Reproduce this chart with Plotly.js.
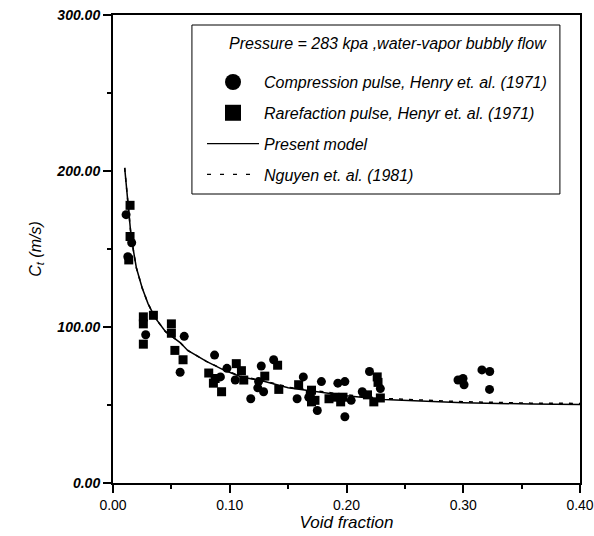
<!DOCTYPE html>
<html>
<head>
<meta charset="utf-8">
<script src="https://cdn.plot.ly/plotly-3.0.1.min.js"></script>
<style>html,body{margin:0;padding:0;background:#fff;}#chart{width:594px;height:536px;}</style>
</head>
<body>
<div id="chart"></div>
<script>
// Compression pulse, Henry et al. (1971)
const compX = [0.0112,0.016,0.0127,0.028,0.061,0.0575,0.087,0.092,0.0976,0.1047,0.127,0.1376,0.1247,0.124,0.129,0.118,0.163,0.1577,0.1785,0.1677,0.175,0.1926,0.1986,0.204,0.1986,0.2135,0.2197,0.229,0.2955,0.3007,0.2998,0.316,0.3227,0.3225];
const compY = [172,154,145,95,94,71,82,68,73.5,66,75,79,65,61,58.5,54,68,54,65,55,46.5,64,65,53,42.5,58.5,71.5,60.5,66,63,67,72.5,71.5,60];
// Rarefaction pulse, Henry et al. (1971)
const rareX = [0.0146,0.0146,0.0135,0.026,0.026,0.0346,0.026,0.050,0.050,0.053,0.060,0.082,0.0875,0.086,0.093,0.1056,0.110,0.112,0.130,0.141,0.142,0.159,0.170,0.169,0.173,0.170,0.185,0.190,0.195,0.197,0.2263,0.227,0.218,0.2234,0.229];
const rareY = [178,158,143,106.5,102,107.5,89,102,96,85,79,70.5,67,64,58.5,76.5,72,66,68.5,75.5,60,63,59.5,56.5,53,52,54,55,52,55,68,64.5,56.5,52,54.5];
// Present model
const modelX = [0.010,0.0125,0.015,0.0175,0.020,0.025,0.030,0.036,0.045,0.0575,0.064,0.080,0.095,0.110,0.130,0.150,0.183,0.200,0.232,0.270,0.300,0.358,0.400];
const modelY = [202,180,162,149,138,125,115,106,97,90,85,78,72.4,68,65,61,57.5,56,53.6,52.2,51.5,50.6,50.4];
// Nguyen et al. (1981)
const nguyenX = [0.010,0.0125,0.015,0.0175,0.020,0.025,0.030,0.036,0.045,0.0575,0.064,0.080,0.095,0.110,0.130,0.150,0.183,0.200,0.232,0.270,0.300,0.358,0.400];
const nguyenY = [202,180,162,149,138,125,115,106,97,90,85,78,72.6,68.3,65.3,61.4,58,56.5,54.2,52.8,52.1,51.2,51];

const legendTitle = "Pressure = 283 kpa ,water-vapor bubbly flow";
const names = ["Compression pulse, Henry et. al. (1971)", "Rarefaction pulse, Henyr et. al. (1971)", "Present model", "Nguyen et. al. (1981)"];

const FONT = "Liberation Sans, Arial, sans-serif";
const INK = '#000000';

const traces = [
  {x: modelX, y: modelY, mode: 'lines', line: {color: INK, width: 1.5}, showlegend: false, hoverinfo: 'skip'},
  {x: nguyenX, y: nguyenY, mode: 'lines', line: {color: INK, width: 1.5, dash: '4px,6px'}, showlegend: false, hoverinfo: 'skip'},
  {x: compX, y: compY, mode: 'markers', marker: {symbol: 'circle', size: 9, color: INK}, showlegend: false},
  {x: rareX, y: rareY, mode: 'markers', marker: {symbol: 'square', size: 9, color: INK}, showlegend: false},
  // legend-only entries
  {x: [null], y: [null], mode: 'markers', name: names[0], legendgroup: 'a', marker: {symbol: 'circle', size: 16, color: INK}},
  {x: [null], y: [null], mode: 'markers', name: names[1], legendgroup: 'b', marker: {symbol: 'square', size: 16, color: INK}},
  {x: [null], y: [null], mode: 'lines', name: names[2], legendgroup: 'c', line: {color: INK, width: 1.2}},
  {x: [null], y: [null], mode: 'lines', name: names[3], legendgroup: 'd', line: {color: INK, width: 1.2, dash: '4px,9px'}}
];

const layout = {
  template: {},
  width: 594, height: 536,
  margin: {l: 113, r: 14, t: 15, b: 53},
  paper_bgcolor: '#fff', plot_bgcolor: '#fff',
  font: {family: FONT, color: INK, size: 13},
  showlegend: true,
  legend: {
    x: 0.1906, y: 0.893, xanchor: 'left', yanchor: 'top',
    borderwidth: 0, bgcolor: 'rgba(0,0,0,0)',
    font: {family: FONT, size: 16, style: 'italic', color: INK},
    traceorder: 'grouped', tracegroupgap: 7, itemwidth: 52
  },
  shapes: [
    {type: 'rect', xref: 'paper', yref: 'paper', x0: 0.169, x1: 0.957, y0: 0.6175, y1: 0.9786,
     line: {color: INK, width: 1}, fillcolor: '#fff', layer: 'below'}
  ],
  annotations: [
    {text: legendTitle, xref: 'paper', yref: 'paper', x: 0.244, y: 0.940, xanchor: 'left', yanchor: 'middle',
     showarrow: false, font: {family: FONT, size: 16, style: 'italic', color: INK}}
  ],
  xaxis: {
    range: [0, 0.4], dtick: 0.1, tick0: 0, tickformat: '.2f',
    showline: true, linecolor: INK, linewidth: 2, mirror: true,
    ticks: 'outside', ticklen: 8, tickwidth: 2, tickcolor: INK,
    minor: {dtick: 0.05, ticks: 'outside', ticklen: 4, tickwidth: 2, tickcolor: INK, showgrid: false},
    showgrid: false, zeroline: false,
    tickfont: {family: FONT, size: 14, color: INK},
    title: {text: 'Void fraction', font: {family: FONT, size: 17, style: 'italic', color: INK}, standoff: 4}
  },
  yaxis: {
    range: [0, 300], dtick: 100, tick0: 0, tickformat: '.2f',
    showline: true, linecolor: INK, linewidth: 2, mirror: true,
    ticks: 'outside', ticklen: 8, tickwidth: 2, tickcolor: INK,
    minor: {dtick: 50, ticks: 'outside', ticklen: 4, tickwidth: 2, tickcolor: INK, showgrid: false},
    showgrid: false, zeroline: false,
    tickfont: {family: FONT, size: 14, style: 'italic', weight: 'bold', color: INK},
    title: {text: 'C<sub>t</sub> (m/s)', font: {family: FONT, size: 16, style: 'italic', color: INK}, standoff: 11}
  }
};

Plotly.newPlot('chart', traces, layout, {displayModeBar: false, staticPlot: true});
</script>
</body>
</html>
